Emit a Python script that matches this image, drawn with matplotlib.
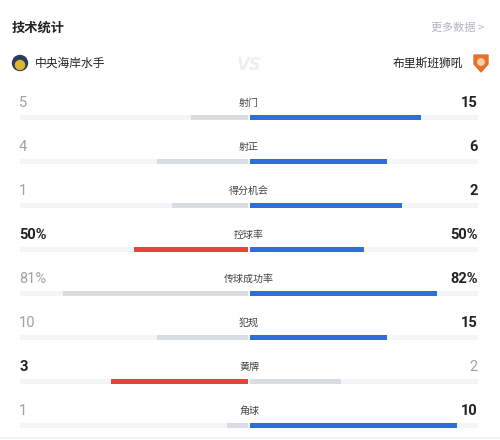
import numpy as np
import matplotlib.pyplot as plt
from matplotlib.patches import Circle, Polygon

plt.rcParams['font.family'] = ['Noto Sans CJK SC', 'DejaVu Sans']

# ---- data ----
title = "技术统计"
more_link = "更多数据 >"
home_team = "中央海岸水手"
away_team = "布里斯班狮吼"

stat_names = ["射门", "射正", "得分机会", "控球率", "传球成功率", "犯规", "黄牌", "角球"]
home_vals = [5, 4, 1, 50, 81, 10, 3, 1]
away_vals = [15, 6, 2, 50, 82, 15, 2, 10]
is_pct = [False, False, False, True, True, False, False, False]

# ---- style ----
BLUE = "#2f6fdd"
RED = "#e5433b"
GRAY_BAR = "#d9dce1"
TRACK = "#f4f5f7"
DARK = "#222222"
MUTED = "#9da1a8"

W, H = 500, 440
CENTER = 249
HALF = 228
ROW0 = 103
ROW_STEP = 44
BAR_OFF = 15
BAR_H = 5

fig = plt.figure(figsize=(W / 100, H / 100), dpi=100)
ax = fig.add_axes([0, 0, 1, 1])
ax.set_xlim(0, W)
ax.set_ylim(H, 0)
ax.axis("off")

# header
ax.text(12, 28, title, fontsize=9.5, fontweight="bold", color=DARK, va="center", ha="left")
ax.text(484, 28, more_link, fontsize=8, color="#b3b6bb", va="center", ha="right")

# teams (simple badge shapes)
ax.add_patch(Circle((20, 63), 7.5, color="#2c3e5c"))
ax.add_patch(Circle((20, 65), 4.5, color="#e0b530"))
ax.text(35, 63, home_team, fontsize=8.5, color=DARK, va="center", ha="left")
ax.add_patch(Polygon([(474, 55), (488, 55), (488, 64), (481, 72), (474, 64)],
                     closed=True, color="#e8702a"))
ax.add_patch(Circle((481, 62), 3.2, color="#f3d2b0"))
ax.text(463, 63, away_team, fontsize=8.5, color=DARK, va="center", ha="right")
ax.text(249, 65, "VS", fontsize=12, fontweight="bold", fontstyle="italic", color="#eeeff1",
        va="center", ha="center", family="DejaVu Sans")

for i, (name, hv, av, pct) in enumerate(zip(stat_names, home_vals, away_vals, is_pct)):
    ty = ROW0 + i * ROW_STEP
    by = ty + BAR_OFF
    if pct:
        hfrac, afrac = hv / 100, av / 100
        hs, as_ = f"{hv}%", f"{av}%"
    else:
        tot = hv + av
        hfrac, afrac = hv / tot, av / tot
        hs, as_ = str(hv), str(av)

    home_win = hv >= av
    away_win = av >= hv

    ax.barh(by, 458, left=20, height=BAR_H, color=TRACK, linewidth=0)
    ax.barh(by, -hfrac * HALF, left=CENTER - 1, height=BAR_H,
            color=RED if home_win else GRAY_BAR, linewidth=0)
    ax.barh(by, afrac * HALF, left=CENTER + 1, height=BAR_H,
            color=BLUE if away_win else GRAY_BAR, linewidth=0)

    ax.text(CENTER, ty, name, fontsize=7.2, color="#444444", va="center", ha="center")
    ax.text(19, ty, hs, fontsize=10.5, family="Roboto",
            fontweight="bold" if home_win else "normal",
            color=DARK if home_win else MUTED, va="center", ha="left")
    ax.text(478, ty, as_, fontsize=10.5, family="Roboto",
            fontweight="bold" if away_win else "normal",
            color=DARK if away_win else MUTED, va="center", ha="right")

ax.axhline(438.5, color="#eef6f8", linewidth=1.5)

fig.savefig("out.png", dpi=100)
